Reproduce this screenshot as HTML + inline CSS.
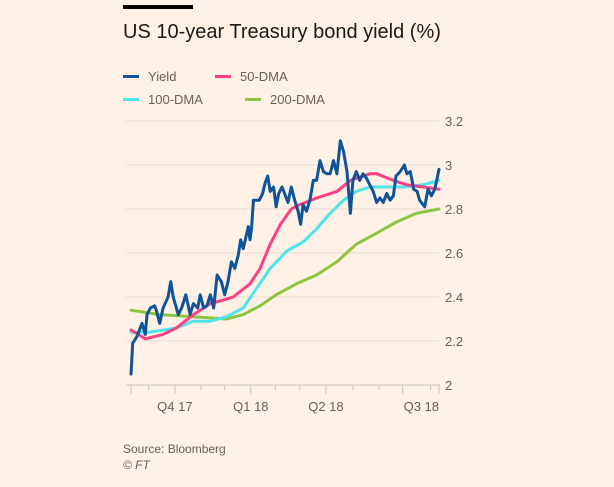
<!DOCTYPE html>
<html><head><meta charset="utf-8"><style>
body{margin:0;background:#fff1e5;width:614px;height:487px;overflow:hidden;font-family:"Liberation Sans",sans-serif}
svg{position:absolute;left:0;top:0}
</style></head><body>
<svg width="614" height="487">
<rect x="123" y="5" width="70" height="4" fill="#000"/>
<text x="123" y="38" font-size="20" fill="#1a1a1a">US 10-year Treasury bond yield (%)</text>
<g font-size="13" fill="#66605c">
<g><rect x="123" y="75" width="16" height="3" fill="#0f5499"/><text x="148" y="81">Yield</text></g>
<g><rect x="215" y="75" width="16" height="3" fill="#ff3f84"/><text x="240" y="81">50-DMA</text></g>
<g><rect x="123" y="98" width="16" height="3" fill="#4ee4ec"/><text x="148" y="104">100-DMA</text></g>
<g><rect x="245" y="98" width="16" height="3" fill="#8cc63f"/><text x="270" y="104">200-DMA</text></g>
</g>
<g id="grid"></g><g id="axes"></g><g id="series"></g>
<text x="123" y="453" font-size="12" fill="#66605c">Source: Bloomberg</text>
<text x="123" y="469" font-size="12" font-style="italic" fill="#66605c">© FT</text>
</svg>
<script>
const yTicks=[2,2.2,2.4,2.6,2.8,3,3.2];
const yTickLabels=["2","2.2","2.4","2.6","2.8","3","3.2"];
const monthTicks=[0,21,52,83,111,142,171,200,231,263,294,322,355,365];
const quarterTicks=[52,142,231,322];
const quarterLabels=["Q4 17","Q1 18","Q2 18","Q3 18"];
const yieldDays=[0,2,7,13,17,19,23,28,30,34,38,44,47,50,56,60,65,70,74,79,82,86,90,94,98,102,107,111,115,119,123,127,130,133,136,139,141,143,145,149,152,156,159,162,165,169,172,175,179,182,186,190,194,198,201,204,208,212,216,220,224,228,232,236,240,244,248,252,256,260,263,267,271,275,279,283,287,291,295,299,303,307,311,314,319,324,327,331,335,339,342,348,352,356,360,365];
const yieldValues=[2.05,2.19,2.22,2.28,2.23,2.32,2.35,2.36,2.34,2.28,2.35,2.40,2.47,2.40,2.32,2.35,2.41,2.32,2.37,2.35,2.41,2.35,2.36,2.41,2.35,2.50,2.47,2.41,2.47,2.56,2.53,2.59,2.66,2.62,2.67,2.72,2.66,2.72,2.84,2.84,2.84,2.87,2.92,2.95,2.88,2.90,2.81,2.87,2.90,2.87,2.83,2.90,2.84,2.79,2.73,2.82,2.79,2.84,2.93,2.93,3.02,2.97,2.96,2.96,3.02,2.96,3.11,3.06,2.97,2.78,2.93,2.97,2.93,2.96,2.94,2.91,2.88,2.83,2.85,2.83,2.87,2.84,2.86,2.95,2.97,3.00,2.96,2.97,2.89,2.88,2.84,2.81,2.89,2.86,2.89,2.98];
const dma50Days=[0,17,38,54,74,94,113,121,141,153,165,177,190,200,220,244,260,283,291,311,327,346,365];
const dma50Values=[2.25,2.21,2.23,2.26,2.32,2.37,2.39,2.40,2.46,2.53,2.64,2.73,2.80,2.82,2.85,2.88,2.93,2.96,2.96,2.93,2.91,2.90,2.89];
const dma100Days=[0,22,54,74,94,113,133,149,165,185,204,220,236,252,267,283,303,323,346,365];
const dma100Values=[2.24,2.24,2.26,2.29,2.29,2.31,2.35,2.44,2.53,2.61,2.65,2.71,2.78,2.84,2.88,2.90,2.90,2.90,2.91,2.93];
const dma200Days=[0,34,74,113,133,153,172,196,220,244,267,291,314,338,365];
const dma200Values=[2.34,2.32,2.31,2.30,2.32,2.36,2.41,2.46,2.50,2.56,2.64,2.69,2.74,2.78,2.80];

const NS="http://www.w3.org/2000/svg";
const X0=131,X1=439,D0=0,D1=365,Y0=385,V0=2,V1=3.2,Ytop=121;
const xs=d=>X0+(d-D0)/(D1-D0)*(X1-X0);
const ys=v=>Y0-(v-V0)/(V1-V0)*(Y0-Ytop);
function mk(tag,attrs,parent){const e=document.createElementNS(NS,tag);for(const k in attrs)e.setAttribute(k,attrs[k]);parent.appendChild(e);return e;}
const grid=document.getElementById('grid'),axes=document.getElementById('axes'),series=document.getElementById('series');
yTicks.forEach((v,i)=>{
  if(i>0){const l=mk('line',{x1:126,x2:X1,y1:ys(v),y2:ys(v),stroke:'#e9dcd0','stroke-width':1},grid);
  
  }
  const t=mk('text',{x:445,y:ys(v)+5,'font-size':13,fill:'#66605c'},axes);t.textContent=yTickLabels[i];
  
  
});
const ax=mk('line',{x1:126,x2:X1+1,y1:Y0,y2:Y0,stroke:'#cfc3b8','stroke-width':1},axes);


monthTicks.forEach(d=>{
  const major=quarterTicks.includes(d)||d===D0||d===D1;
  const t=mk('line',{x1:xs(d),x2:xs(d),y1:Y0,y2:Y0+(major?9:5),stroke:'#cfc3b8','stroke-width':1},axes);
  
  
});
quarterTicks.forEach((d,i)=>{
  const last=i===quarterTicks.length-1;
  const t=mk('text',{x:last?X1:xs(d),y:411,'font-size':13,fill:'#66605c','text-anchor':last?'end':'middle'},axes);
  t.textContent=quarterLabels[i];
  
  
});
function line(days,vals,color,w,name){
  const d=days.map((dd,i)=>(i?'L':'M')+xs(dd).toFixed(1)+','+ys(vals[i]).toFixed(1)).join('');
  const p=mk('path',{d:d,fill:'none',stroke:color,'stroke-width':w,'stroke-linejoin':'round','stroke-linecap':'round'},series);
  
  
}
line(dma200Days,dma200Values,'#8cc63f',3,'line-200dma');
line(dma100Days,dma100Values,'#4ee4ec',3,'line-100dma');
line(dma50Days,dma50Values,'#ff3f84',3,'line-50dma');
line(yieldDays,yieldValues,'#0f5499',3,'line-yield');
</script>
</body></html>
